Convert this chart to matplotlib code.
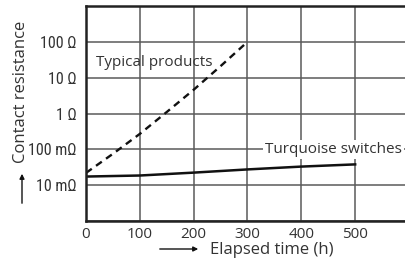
import numpy as np
import matplotlib
matplotlib.use("Agg")
import matplotlib.pyplot as plt
from matplotlib import font_manager

plt.rcParams['font.family'] = ['Open Sans', 'DejaVu Sans']

# pick a regular narrow face for the y tick labels if one is installed
regular = [f for f in font_manager.fontManager.ttflist
           if f.style == 'normal' and f.weight in (400, 'normal', 'regular', 'book')]
narrow = None
for want in ['Roboto Condensed', 'Liberation Sans Narrow', 'Open Sans Condensed', 'Noto Sans Condensed']:
    hits = [f for f in regular if f.name == want]
    if hits:
        narrow = hits[0]
        break
if narrow is None:
    hits = [f for f in regular if f.stretch in ('condensed', 'semi-condensed')]
    narrow = hits[0] if hits else None

# elapsed time (h) and contact resistance (ohm)
typical_t = [0, 50, 100, 150, 200, 250, 300]
typical_r = [0.022, 0.075, 0.27, 1.1, 4.6, 21, 100]
turq_t = [0, 100, 200, 300, 400, 500]
turq_r = [0.0174, 0.0186, 0.0224, 0.0275, 0.033, 0.038]
ytick_vals = [0.01, 0.1, 1, 10, 100]
ytick_labels = ["10 mΩ", "100 mΩ", "1 Ω", "10 Ω", "100 Ω"]
xtick_vals = [0, 100, 200, 300, 400, 500]

fig = plt.figure(figsize=(4.06, 2.68), dpi=100)
ax = fig.add_axes([86 / 406, 1 - 221 / 268, 323 / 406, 215 / 268])
ax.set_yscale('log')
ax.set_xlim(0, 600)
ax.set_ylim(1e-3, 1e3)

ax.set_xticks([0, 100, 200, 300, 400, 500, 600])
ax.set_xticklabels([str(v) for v in xtick_vals] + [""])
ax.set_yticks([1e-3] + ytick_vals + [1e3])
ax.set_yticklabels([""] + ytick_labels + [""])
ax.yaxis.set_minor_locator(matplotlib.ticker.NullLocator())
ax.tick_params(length=0, labelsize=11, colors='#333333', pad=4)
ax.tick_params(axis='y', pad=7)
if narrow is not None:
    for lbl in ax.get_yticklabels():
        lbl.set_fontproperties(font_manager.FontProperties(fname=narrow.fname, size=11.5))
ax.grid(True, color='#5a5a5a', linewidth=1.1)
ax.set_axisbelow(True)
for s in ['left', 'top', 'bottom']:
    ax.spines[s].set_linewidth(1.8)
    ax.spines[s].set_color('#222222')
ax.spines['right'].set_visible(False)

ax.plot(typical_t, typical_r, color='#111111', linestyle=(0, (3, 2.2)), linewidth=1.7)
ax.plot(turq_t, turq_r, color='#111111', linewidth=1.8)

ax.text(18, 26, "Typical products", fontsize=11, color='#333333', va='center', ha='left')
ax.text(332, 0.1, "Turquoise switches", fontsize=11, color='#333333', va='center', ha='left',
        bbox=dict(facecolor='white', edgecolor='none', pad=1.5))

# axis labels with arrows
fig.text(21 / 406, 1 - 92 / 268, "Contact resistance", rotation=90, fontsize=12,
         color='#333333', ha='center', va='center')
fig.add_artist(matplotlib.patches.FancyArrowPatch(
    (22 / 406, 1 - 206 / 268), (22 / 406, 1 - 171 / 268), transform=fig.transFigure,
    arrowstyle='-|>', mutation_scale=7, color='#111111', linewidth=1))
fig.text(210 / 406, 1 - 250 / 268, "Elapsed time (h)", fontsize=12,
         color='#333333', ha='left', va='center')
fig.add_artist(matplotlib.patches.FancyArrowPatch(
    (157 / 406, 1 - 249 / 268), (201 / 406, 1 - 249 / 268), transform=fig.transFigure,
    arrowstyle='-|>', mutation_scale=7, color='#111111', linewidth=1))

fig.savefig("out.png", dpi=100)
